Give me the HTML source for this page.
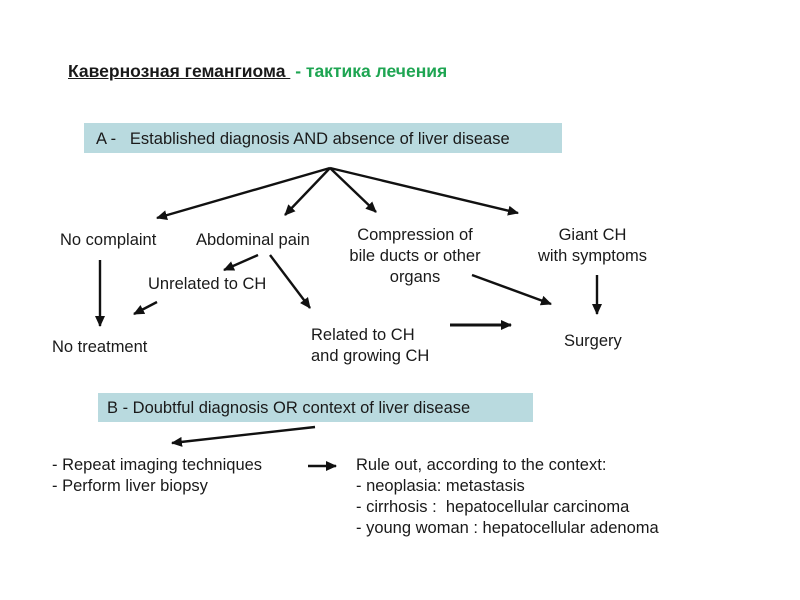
<!DOCTYPE html>
<html><head><meta charset="utf-8"><style>
body{margin:0;width:800px;height:600px;background:#fff;overflow:hidden;position:relative;font-family:"Liberation Sans","DejaVu Sans",sans-serif;}
.t{position:absolute;font-size:16.5px;color:#1a1a1a;white-space:nowrap;line-height:21px}
.c{text-align:center}
.box{position:absolute;background:#b9dadf}
</style></head><body>
<div class="t" style="left:68px;top:61px;font-weight:bold;font-size:17.5px"><span style="text-decoration:underline">Кавернозная гемангиома&nbsp;</span> <span style="color:#1ea552">- тактика лечения</span></div>
<div class="box" style="left:84px;top:123px;width:478px;height:30px"></div>
<div class="t" style="left:96px;top:129px">A -&nbsp;&nbsp; Established diagnosis AND absence of liver disease</div>
<div class="box" style="left:98px;top:393px;width:435px;height:29px"></div>
<div class="t" style="left:107px;top:398px">B - Doubtful diagnosis OR context of liver disease</div>

<div class="t" style="left:60px;top:230px">No complaint</div>
<div class="t" style="left:196px;top:230px">Abdominal pain</div>
<div class="t c" style="left:330px;top:225px;width:170px">Compression of<br>bile ducts or other<br>organs</div>
<div class="t c" style="left:515px;top:225px;width:155px">Giant CH<br>with symptoms</div>
<div class="t" style="left:148px;top:274px">Unrelated to CH</div>
<div class="t" style="left:52px;top:337px">No treatment</div>
<div class="t" style="left:311px;top:325px">Related to CH<br>and growing CH</div>
<div class="t" style="left:564px;top:331px">Surgery</div>
<div class="t" style="left:52px;top:455px">- Repeat imaging techniques<br>- Perform liver biopsy</div>
<div class="t" style="left:356px;top:455px">Rule out, according to the context:<br>- neoplasia: metastasis<br>- cirrhosis :&nbsp; hepatocellular carcinoma<br>- young woman : hepatocellular adenoma</div>

<svg width="800" height="600" style="position:absolute;left:0;top:0">
<defs><marker id="a" markerWidth="11" markerHeight="10" refX="10" refY="5" orient="auto" markerUnits="userSpaceOnUse"><path d="M0,0 L11,5 L0,10 z" fill="#111"/></marker></defs>
<g stroke="#111" stroke-width="2.4" fill="none" marker-end="url(#a)">
<line x1="330" y1="168" x2="157" y2="218"/>
<line x1="330" y1="168" x2="285" y2="215"/>
<line x1="330" y1="168" x2="376" y2="212"/>
<line x1="330" y1="168" x2="518" y2="213"/>
<line x1="258" y1="255" x2="224" y2="270"/>
<line x1="270" y1="255" x2="310" y2="308"/>
<line x1="157" y1="302" x2="134" y2="314"/>
<line x1="100" y1="260" x2="100" y2="326"/>
<line x1="472" y1="275" x2="551" y2="304"/>
<line x1="597" y1="275" x2="597" y2="314"/>
<line x1="450" y1="325" x2="511" y2="325" stroke-width="3"/>
<line x1="315" y1="427" x2="172" y2="443"/>
<line x1="308" y1="466" x2="336" y2="466" stroke-width="2.6"/>
</g></svg>
</body></html>
